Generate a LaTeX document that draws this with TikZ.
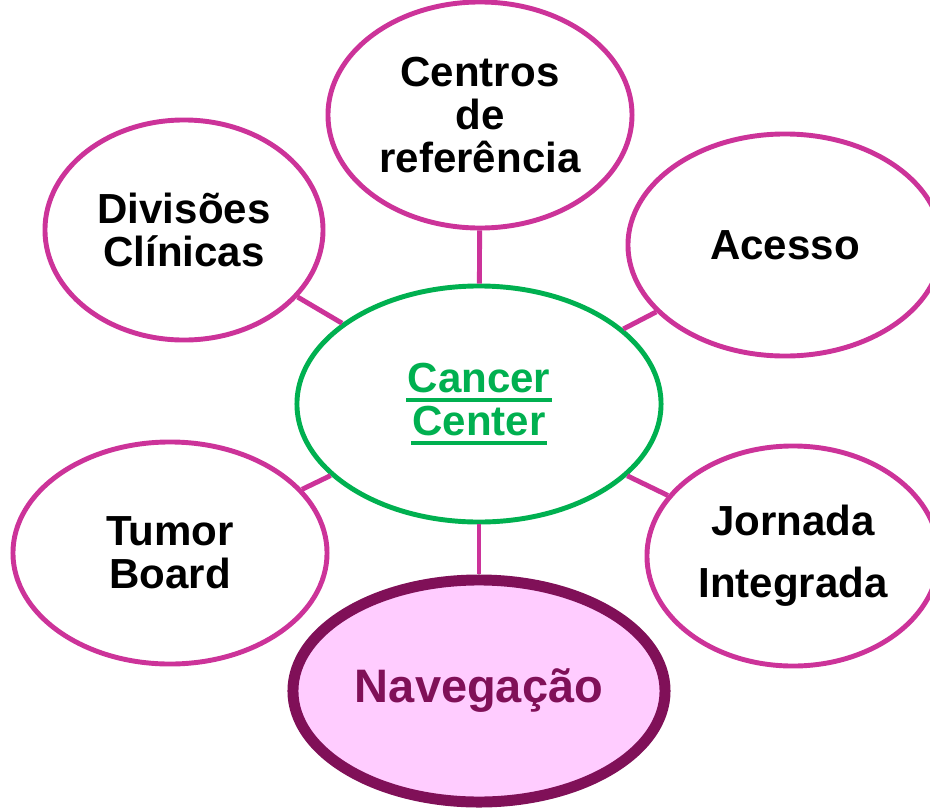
\documentclass[tikz,border=0pt]{standalone}
\usepackage{fontspec}
\setmainfont{Liberation Sans}
\usetikzlibrary{shapes.geometric}

\definecolor{ccmagenta}{RGB}{204,51,153}
\definecolor{ccgreen}{RGB}{0,176,80}
\definecolor{ccpurple}{RGB}{128,16,88}
\definecolor{ccpink}{RGB}{255,204,255}

% underline drawn as a rule, thicker than \underline
\newcommand{\ccul}[1]{\setbox0\hbox{#1}\rlap{\hskip-1pt\rule[-7pt]{\dimexpr\wd0+2pt\relax}{2.8pt}}\box0}

\begin{document}
\begin{tikzpicture}[x=0.025cm, y=-0.025cm]
    \tikzstyle{bubble} = [ellipse, draw=ccmagenta, line width=3.5pt, fill=white,
        inner sep=0pt, align=center, text=black,
        font=\fontsize{29.9}{30.6}\selectfont\bfseries]
    \tikzstyle{link} = [line width=3.5pt, draw=ccmagenta]

    \useasboundingbox (0,0) rectangle (930,811);
    \clip (0,0) rectangle (930,811);

    \node [bubble, draw=ccgreen, text=ccgreen, minimum width=9.1cm, minimum height=5.9cm] (center) at (479,404) {\ccul{Cancer}\\\ccul{Center}};
    \node [bubble, minimum width=7.6cm, minimum height=5.65cm] (centros) at (480,115) {Centros\\de\\referência};
    \node [bubble, minimum width=6.95cm, minimum height=5.5cm] (divisoes) at (184,230) {Divisões\\Clínicas};
    \node [bubble, minimum width=7.85cm, minimum height=5.55cm] (acesso) at (785,245) {Acesso};
    \node [bubble, minimum width=7.85cm, minimum height=5.55cm] (tumor) at (170,553) {Tumor\\Board};
    \node [bubble, minimum width=7.3cm, minimum height=5.5cm] (jornada) at (793,556) {Jornada\\[0.475cm]Integrada};
    \node [bubble, draw=ccpurple, line width=7.8pt, fill=ccpink, text=ccpurple,
        font=\fontsize{33.4}{36}\selectfont\bfseries,
        minimum width=9.3cm, minimum height=5.55cm] (navegacao) at (479,691) {Navegação};

    \draw [link] (center) -- (centros);
    \draw [link] (center) -- (divisoes);
    \draw [link] (center) -- (acesso);
    \draw [link] (center) -- (tumor);
    \draw [link] (center) -- (jornada);
    \draw [link] (center) -- (navegacao);
\end{tikzpicture}
\end{document}
